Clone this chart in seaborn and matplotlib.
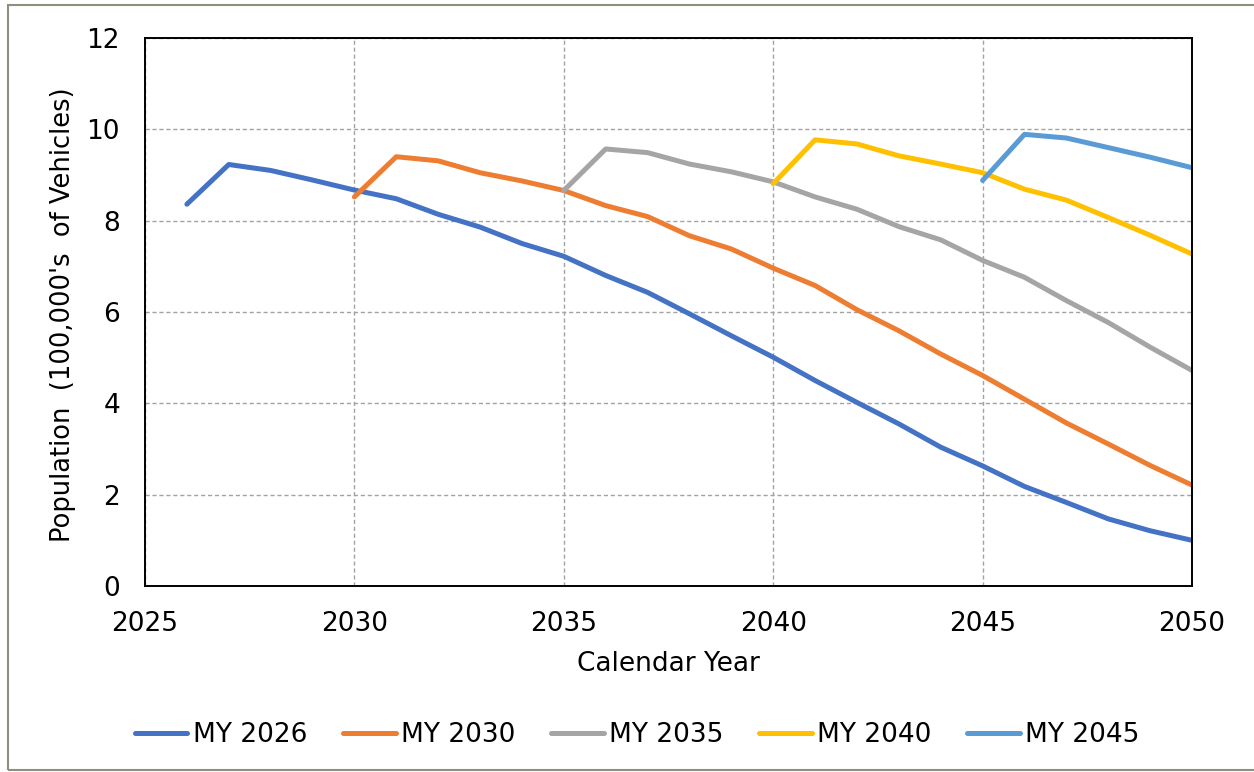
import numpy as np
import pandas as pd
import matplotlib
matplotlib.use('Agg')
import matplotlib.pyplot as plt
from matplotlib.patches import Rectangle
import seaborn as sns

sns.set_style('white')
plt.rcParams['font.family'] = ['DejaVu Sans']
plt.rcParams['font.size'] = 18
plt.rcParams['text.color'] = 'black'
plt.rcParams['axes.labelcolor'] = 'black'
plt.rcParams['xtick.color'] = 'black'
plt.rcParams['ytick.color'] = 'black'

# values (100,000's of vehicles)
years_2026 = list(range(2026, 2051))
my_2026 = [8.36, 9.23, 9.10, 8.89, 8.67, 8.48, 8.14, 7.86, 7.50, 7.22, 6.80, 6.43, 5.96, 5.48, 5.01,
           4.50, 4.02, 3.55, 3.04, 2.63, 2.18, 1.83, 1.47, 1.21, 1.00]
years_2030 = list(range(2030, 2051))
my_2030 = [8.52, 9.40, 9.31, 9.05, 8.87, 8.66, 8.33, 8.09, 7.67, 7.38, 6.96, 6.58, 6.05, 5.59, 5.08,
           4.61, 4.09, 3.57, 3.11, 2.64, 2.21]
years_2035 = list(range(2035, 2051))
my_2035 = [8.66, 9.57, 9.49, 9.24, 9.07, 8.85, 8.52, 8.25, 7.87, 7.58, 7.13, 6.76, 6.25, 5.77, 5.23, 4.72]
years_2040 = list(range(2040, 2051))
my_2040 = [8.81, 9.77, 9.68, 9.42, 9.24, 9.05, 8.69, 8.45, 8.07, 7.68, 7.27]
years_2045 = list(range(2045, 2051))
my_2045 = [8.88, 9.89, 9.81, 9.60, 9.39, 9.16]

series_names = ['MY 2026', 'MY 2030', 'MY 2035', 'MY 2040', 'MY 2045']
series_years = [years_2026, years_2030, years_2035, years_2040, years_2045]
series_vals = [my_2026, my_2030, my_2035, my_2040, my_2045]
colors = ['#4472C4', '#ED7D31', '#A5A5A5', '#FFC000', '#5B9BD5']

df = pd.concat([pd.DataFrame({'year': y, 'pop': v, 'series': n})
                for n, y, v in zip(series_names, series_years, series_vals)], ignore_index=True)

fig = plt.figure(figsize=(12.54, 7.72), dpi=100)
ax = fig.add_axes([145 / 1254, 1 - 586 / 772, 1047 / 1254, 548 / 772])

sns.lineplot(data=df, x='year', y='pop', hue='series', hue_order=series_names,
             palette=dict(zip(series_names, colors)), linewidth=3.6, ax=ax, legend=True)

ax.set_xlim(2025, 2050)
ax.set_ylim(0, 12)
ax.set_xticks(range(2025, 2051, 5))
ax.set_yticks(range(0, 13, 2))
ax.grid(True, color='#a3a3a3', linestyle=(0, (3, 2)), linewidth=1.0)
ax.set_axisbelow(True)
for sp in ax.spines.values():
    sp.set_color('black')
    sp.set_linewidth(1.4)
ax.tick_params(axis='x', direction='out', length=6, width=1.2, pad=12, labelsize=19)
ax.tick_params(axis='y', length=0, pad=18, labelsize=19)

ax.set_xlabel('Calendar Year', fontsize=19)
ax.xaxis.set_label_coords(0.5, -0.118)
ax.set_ylabel("Population  (100,000's  of Vehicles)", fontsize=18.5)
ax.yaxis.set_label_coords(-0.066, 0.495)

handles, labels = ax.get_legend_handles_labels()
ax.get_legend().remove()
fig.legend(handles, labels, loc='center', bbox_to_anchor=(0.508, 0.048), ncol=5, frameon=False,
           fontsize=19, handlelength=2.0, handletextpad=0.2, columnspacing=1.35)

# outer chart border
fig.patches.append(Rectangle((8 / 1254, 2 / 772), 1.2, 1 - 7 / 772, transform=fig.transFigure,
                             fill=False, edgecolor='#8f8f80', linewidth=1.5))

fig.savefig('out.png', dpi=100)
